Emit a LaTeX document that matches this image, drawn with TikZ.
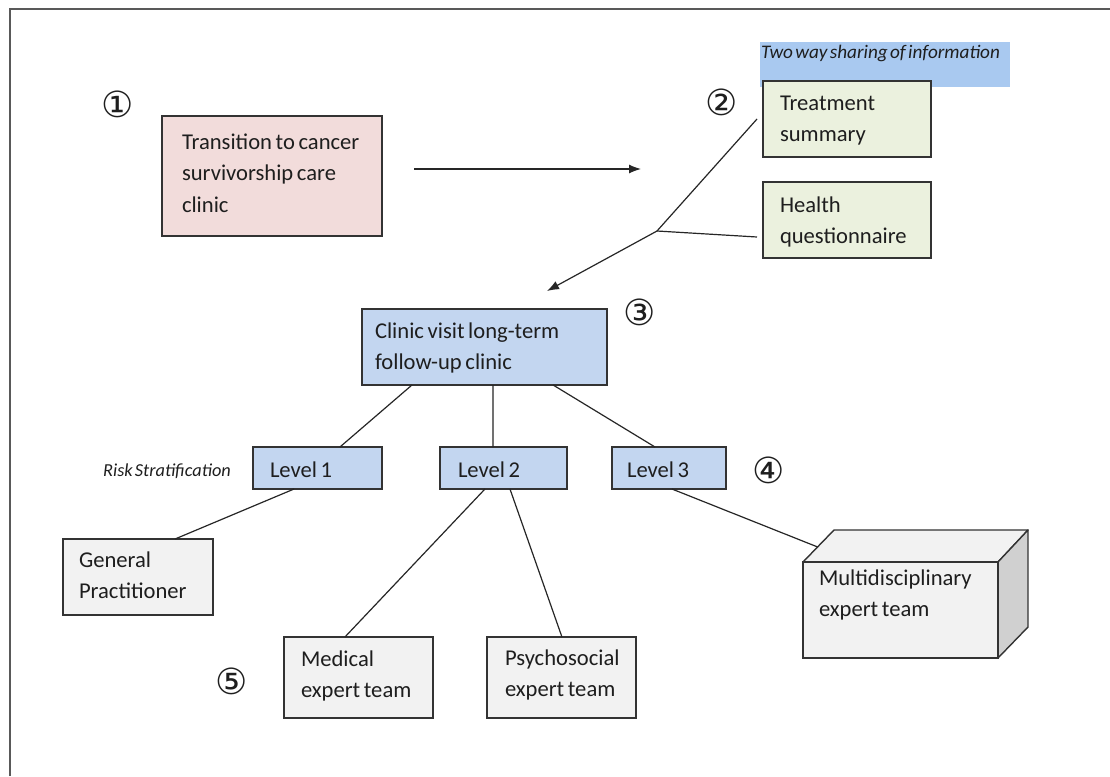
\documentclass[tikz,border=0pt]{standalone}
\usepackage{fontspec}
\setmainfont{Carlito}
\newfontfamily\symfont{DejaVu Sans}
\usetikzlibrary{arrows.meta,calc}
\definecolor{pinkfill}{HTML}{F2DCDB}
\definecolor{greenfill}{HTML}{EBF1DE}
\definecolor{bluefill}{HTML}{C3D6F0}
\definecolor{grayfill}{HTML}{F2F2F2}
\definecolor{sidegray}{HTML}{D0D0D0}
\definecolor{hilite}{HTML}{A9C9F0}
\definecolor{linecol}{HTML}{333333}
\definecolor{txtcol}{HTML}{1E1E1E}
% width, height, first-baseline offset, text
\newcommand{\bxtext}[4]{\parbox[c][#2][t]{#1}{\raggedright\fontsize{22.6}{31.5}\selectfont\spaceskip=0.16em plus 0.05em\rule{0pt}{#3}#4}}
\tikzset{
  box/.style={draw=linecol, line width=1.4pt, anchor=north west, inner ysep=0pt, outer sep=0pt, text=txtcol},
  conn/.style={draw=black!85, line width=1.2pt},
  arr/.style={conn, -{Latex[length=12pt,width=9pt]}},
  num/.style={font=\symfont\fontsize{36}{36}\selectfont, text=txtcol, inner sep=0pt},
  note/.style={font=\itshape\fontsize{18.3}{18}\selectfont, text=txtcol, inner sep=0pt}
}
\begin{document}
\begin{tikzpicture}[x=1pt,y=-1pt]
\useasboundingbox (0,0) rectangle (1110,776);
\fill[white] (0,0) rectangle (1110,776);
\draw[line width=1.6pt, draw=black!65] (10,776) -- (10,9) -- (1110,9);

% highlight note
\node[anchor=north west, fill=hilite, inner xsep=1pt, inner ysep=0pt, outer sep=0pt] (share) at (760,42)
  {\parbox[c][45pt][t]{248pt}{\itshape\fontsize{19.2}{20}\selectfont\color{txtcol}\spaceskip=0.12em plus 0.05em\rule{0pt}{16pt}Two way sharing of information}};

% boxes
\node[box, fill=pinkfill, inner xsep=20pt] (trans) at (162,116)
  {\bxtext{180pt}{120pt}{33pt}{Transition to cancer\\survivorship care\\clinic}};
\node[box, fill=greenfill, inner xsep=17pt] (ts) at (763,81)
  {\bxtext{134pt}{76pt}{29pt}{Treatment\\summary}};
\node[box, fill=greenfill, inner xsep=17pt] (hq) at (763,182)
  {\bxtext{134pt}{76pt}{30pt}{Health\\questionnaire}};
\node[box, fill=bluefill, inner xsep=13pt] (clinic) at (362,309)
  {\bxtext{219pt}{76pt}{29pt}{Clinic visit long-term\\follow-up clinic}};
\node[box, fill=bluefill, inner xsep=17pt] (l1) at (253,447)
  {\bxtext{95pt}{42pt}{30pt}{Level 1}};
\node[box, fill=bluefill, inner xsep=18pt] (l2) at (440,447)
  {\bxtext{91pt}{42pt}{30pt}{Level 2}};
\node[box, fill=bluefill, inner xsep=15pt] (l3) at (612,447)
  {\bxtext{84pt}{42pt}{30pt}{Level 3}};
\node[box, fill=grayfill, inner xsep=16pt] (gp) at (63,539)
  {\bxtext{118pt}{76pt}{28pt}{General\\Practitioner}};
\node[box, fill=grayfill, inner xsep=17pt] (med) at (284,637)
  {\bxtext{115pt}{81pt}{29pt}{Medical\\expert team}};
\node[box, fill=grayfill, inner xsep=18pt] (psy) at (487,637)
  {\bxtext{113pt}{81pt}{28pt}{Psychosocial\\expert team}};

% 3D box
\filldraw[fill=grayfill, draw=linecol, line width=1.4pt, line join=round] (803,562) -- (834,530) -- (1028,530) -- (998,562) -- cycle;
\filldraw[fill=sidegray, draw=linecol, line width=1.4pt, line join=round] (998,562) -- (1028,530) -- (1028,627) -- (998,658) -- cycle;
\node[box, fill=grayfill, inner xsep=16pt] (multi) at (803,562)
  {\bxtext{163pt}{96pt}{23pt}{Multidisciplinary\\expert team}};
\coordinate (multiedge) at ($(multi.north west)!0.47!(834,530)$);

% labels
\node[note] (risk) at (167,471) {\spaceskip=0.12em plus 0.05em Risk Stratification};
\node[num] (n1) at (118,104) {①};
\node[num] (n2) at (722,102) {②};
\node[num] (n3) at (640,312) {③};
\node[num] (n4) at (769,470) {④};
\node[num] (n5) at (232,681) {⑤};

% connectors
\coordinate (a1) at (414,169);
\coordinate (a2) at (641,169);
\draw[arr] (a1) -- (a2);
\coordinate (junc) at (657,231);
\draw[conn] (junc) -- ([xshift=-6pt]ts.west);
\draw[conn] (junc) -- ([xshift=-6pt,yshift=-17pt]hq.west);
\coordinate (tip) at (547,291);
\draw[arr] (junc) -- (tip);

\draw[conn] ($(clinic.south west)!0.204!(clinic.south east)$) -- ($(l1.north west)!0.674!(l1.north east)$);
\draw[conn] ($(clinic.south west)!0.535!(clinic.south east)$) -- ($(l2.north west)!0.417!(l2.north east)$);
\draw[conn] ($(clinic.south west)!0.78!(clinic.south east)$) -- ($(l3.north west)!0.377!(l3.north east)$);

\draw[conn] ($(l1.south west)!0.318!(l1.south east)$) -- ($(gp.north west)!0.747!(gp.north east)$);
\draw[conn] ($(l2.south west)!0.354!(l2.south east)$) -- ($(med.north west)!0.409!(med.north east)$);
\draw[conn] ($(l2.south west)!0.551!(l2.south east)$) -- ($(psy.north west)!0.503!(psy.north east)$);
\draw[conn] ($(l3.south west)!0.526!(l3.south east)$) -- (multiedge);
\end{tikzpicture}
\end{document}
